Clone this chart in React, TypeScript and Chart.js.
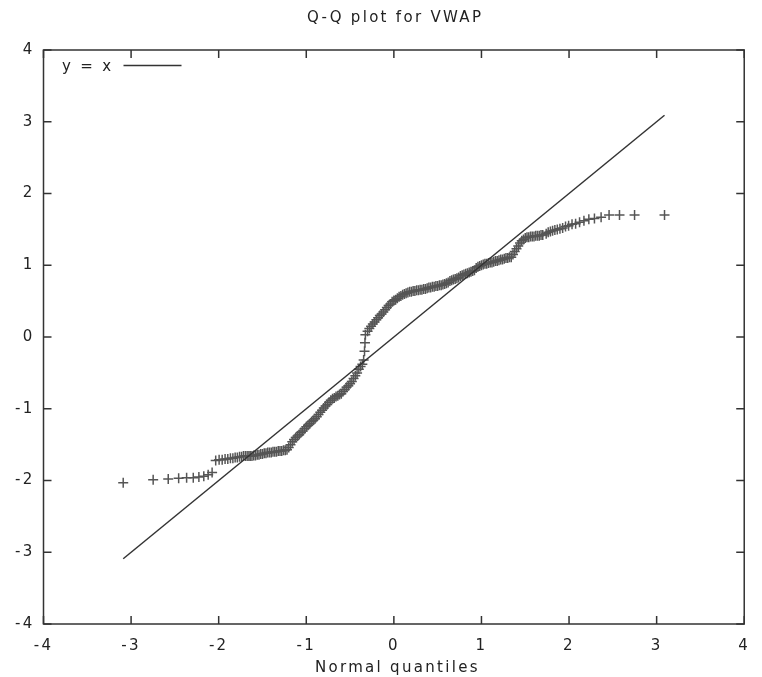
import React, { useEffect, useRef } from "react";
import { Chart, registerables } from "chart.js";

Chart.register(...registerables);

const TITLE = "Q-Q plot for VWAP";
const X_LABEL = "Normal quantiles";
const LINE_LABEL = "y = x";
const AXIS_MIN = -4;
const AXIS_MAX = 4;

// reference line y = x
const lineX = [-3.09, 3.09];
const lineY = [-3.09, 3.09];

// theoretical normal quantiles (x)
const quantileX = [
  -3.09, -2.748, -2.576, -2.457, -2.366, -2.29, -2.226, -2.17, -2.12, -2.075,
  -2.034, -1.995, -1.96, -1.927, -1.896, -1.866, -1.838, -1.812, -1.787, -1.762,
  -1.739, -1.717, -1.695, -1.675, -1.655,
  -1.64, -1.62, -1.6, -1.58, -1.56, -1.54, -1.52, -1.5, -1.48, -1.46,
  -1.44, -1.42, -1.4, -1.38, -1.36, -1.34, -1.32, -1.3, -1.28, -1.26,
  -1.24, -1.22, -1.2, -1.18, -1.16, -1.14, -1.12, -1.1, -1.08, -1.06,
  -1.04, -1.02, -1.0, -0.98, -0.96, -0.94, -0.92, -0.9, -0.88, -0.86,
  -0.84, -0.82, -0.8, -0.78, -0.76, -0.74, -0.72, -0.7, -0.68, -0.66,
  -0.64, -0.62, -0.6, -0.58, -0.56, -0.54, -0.52, -0.5, -0.48, -0.46,
  -0.44, -0.42, -0.4, -0.38, -0.36, -0.345, -0.335, -0.33, -0.325, -0.3,
  -0.28, -0.26, -0.24, -0.22, -0.2, -0.18, -0.16, -0.14, -0.12, -0.1,
  -0.08, -0.06, -0.04, -0.02, 0.0, 0.02, 0.04, 0.06, 0.08, 0.1,
  0.12, 0.14, 0.16, 0.18, 0.2, 0.22, 0.24, 0.26, 0.28, 0.3,
  0.32, 0.34, 0.36, 0.38, 0.4, 0.42, 0.44, 0.46, 0.48, 0.5,
  0.52, 0.54, 0.56, 0.58, 0.6, 0.62, 0.64, 0.66, 0.68, 0.7,
  0.72, 0.74, 0.76, 0.78, 0.8, 0.82, 0.84, 0.86, 0.88, 0.9,
  0.92, 0.94, 0.96, 0.98, 1.0, 1.02, 1.04, 1.06, 1.08, 1.1,
  1.12, 1.14, 1.16, 1.18, 1.2, 1.22, 1.24, 1.26, 1.28, 1.3,
  1.32, 1.34, 1.36, 1.38, 1.4, 1.42, 1.44, 1.46, 1.48, 1.5,
  1.52, 1.54, 1.56, 1.58, 1.6, 1.62, 1.64, 1.66, 1.68, 1.7,
  1.739, 1.762, 1.787, 1.812, 1.838, 1.866, 1.896, 1.927, 1.96, 1.995,
  2.034, 2.075, 2.12, 2.17, 2.226, 2.29, 2.366, 2.457, 2.576, 2.748, 3.09,
];

// sorted sample values (y)
const sampleY = [
  -2.03, -1.99, -1.98, -1.97, -1.96, -1.96, -1.95, -1.94, -1.92, -1.89,
  -1.72, -1.71, -1.71, -1.7, -1.7, -1.69, -1.69, -1.68, -1.68, -1.67,
  -1.67, -1.66, -1.66, -1.66, -1.66,
  -1.66, -1.66, -1.65, -1.65, -1.64, -1.64, -1.63, -1.63, -1.62, -1.62,
  -1.61, -1.61, -1.61, -1.6, -1.6, -1.6, -1.59, -1.59, -1.59, -1.58,
  -1.58, -1.57, -1.54, -1.5, -1.46, -1.43, -1.4, -1.38, -1.36, -1.33,
  -1.31, -1.28, -1.25, -1.23, -1.21, -1.18, -1.16, -1.14, -1.11, -1.08,
  -1.05, -1.02, -0.99, -0.96, -0.94, -0.91, -0.88, -0.86, -0.85, -0.83,
  -0.82, -0.8, -0.79, -0.76, -0.73, -0.7, -0.68, -0.65, -0.62, -0.58,
  -0.54, -0.5, -0.45, -0.41, -0.38, -0.32, -0.2, -0.08, 0.03, 0.08,
  0.12, 0.15, 0.18, 0.21, 0.24, 0.27, 0.3, 0.32, 0.35, 0.38,
  0.41, 0.44, 0.46, 0.49, 0.51, 0.52, 0.54, 0.56, 0.57, 0.59,
  0.6, 0.61, 0.62, 0.63, 0.63, 0.64, 0.64, 0.65, 0.65, 0.66,
  0.66, 0.67, 0.67, 0.68, 0.69, 0.69, 0.7, 0.7, 0.71, 0.71,
  0.72, 0.72, 0.73, 0.74, 0.75, 0.76, 0.78, 0.79, 0.8, 0.81,
  0.82, 0.83, 0.85, 0.86, 0.87, 0.88, 0.89, 0.9, 0.91, 0.92,
  0.93, 0.96, 0.98, 0.99, 1.0, 1.01, 1.02, 1.02, 1.03, 1.04,
  1.04, 1.05, 1.06, 1.06, 1.07, 1.08, 1.08, 1.09, 1.1, 1.1,
  1.11, 1.11, 1.15, 1.19, 1.23, 1.27, 1.31, 1.34, 1.36, 1.38,
  1.39, 1.39, 1.4, 1.4, 1.4, 1.41, 1.41, 1.41, 1.42, 1.42,
  1.44, 1.46, 1.47, 1.48, 1.49, 1.5, 1.51, 1.52, 1.54, 1.55,
  1.57, 1.58, 1.6, 1.62, 1.64, 1.65, 1.67, 1.7, 1.7, 1.7, 1.7,
];

const FONT = "'DejaVu Sans', Verdana, sans-serif";
const TEXT_COLOR = "#222";
const FRAME_COLOR = "#333";
const SPACING = "2.3px";

const framePlugin = {
  id: "gnuFrame",
  beforeDraw(chart: any) {
    (chart.ctx as any).letterSpacing = SPACING;
  },
  afterDatasetsDraw(chart: any) {
    const { ctx, chartArea: a, scales } = chart;
    ctx.save();
    ctx.strokeStyle = FRAME_COLOR;
    ctx.lineWidth = 1.5;
    ctx.strokeRect(a.left, a.top, a.right - a.left, a.bottom - a.top);
    const L = 8;
    ctx.beginPath();
    scales.x.ticks.forEach((t: any) => {
      const px = scales.x.getPixelForValue(t.value);
      ctx.moveTo(px, a.bottom);
      ctx.lineTo(px, a.bottom - L);
      ctx.moveTo(px, a.top);
      ctx.lineTo(px, a.top + L);
    });
    scales.y.ticks.forEach((t: any) => {
      const py = scales.y.getPixelForValue(t.value);
      ctx.moveTo(a.left, py);
      ctx.lineTo(a.left + L, py);
      ctx.moveTo(a.right, py);
      ctx.lineTo(a.right - L, py);
    });
    ctx.stroke();

    ctx.fillStyle = TEXT_COLOR;
    ctx.font = `15px ${FONT}`;
    (ctx as any).letterSpacing = SPACING;
    const cx = (a.left + a.right) / 2;

    // title, centred on the plot area
    ctx.textAlign = "center";
    ctx.textBaseline = "middle";
    ctx.fillText(TITLE, cx + 1.2, a.top - 32);
    // x-axis title
    ctx.fillText(X_LABEL, cx + 3.5, chart.height - 9);

    // key (legend) in the top-left corner
    ctx.textAlign = "left";
    ctx.fillText(chart.data.datasets[0].label, a.left + 18.5, a.top + 17);
    ctx.beginPath();
    ctx.lineWidth = 1.5;
    ctx.moveTo(a.left + 80, a.top + 15.5);
    ctx.lineTo(a.left + 138, a.top + 15.5);
    ctx.stroke();
    ctx.restore();
  },
};

export default function App() {
  const canvasRef = useRef<HTMLCanvasElement | null>(null);

  useEffect(() => {
    if (!canvasRef.current) return;
    const linePts = lineX.map((x, i) => ({ x, y: lineY[i] }));
    const qqPts = quantileX.map((x, i) => ({ x, y: sampleY[i] }));
    const chart = new Chart(canvasRef.current, {
      type: "scatter",
      data: {
        datasets: [
          {
            type: "line",
            label: LINE_LABEL,
            data: linePts,
            borderColor: FRAME_COLOR,
            borderWidth: 1.5,
            pointRadius: 0,
            fill: false,
          } as any,
          {
            label: "VWAP",
            data: qqPts,
            pointStyle: "cross",
            pointRadius: 5,
            borderColor: "#555",
            backgroundColor: "#555",
            borderWidth: 1.5,
          },
        ],
      },
      options: {
        animation: false,
        responsive: true,
        maintainAspectRatio: false,
        layout: { padding: { left: 0, right: 9, top: 50, bottom: 0 } },
        plugins: {
          legend: { display: false },
          tooltip: { enabled: false },
          title: { display: false },
        },
        scales: {
          x: {
            type: "linear",
            min: AXIS_MIN,
            max: AXIS_MAX,
            grid: { display: false, drawTicks: false },
            border: { display: false },
            ticks: {
              stepSize: 1,
              padding: 13,
              color: TEXT_COLOR,
              font: { family: FONT, size: 15 },
            },
            afterFit: (s: any) => {
              s.height = 53;
            },
          },
          y: {
            type: "linear",
            min: AXIS_MIN,
            max: AXIS_MAX,
            grid: { display: false, drawTicks: false },
            border: { display: false },
            ticks: {
              stepSize: 1,
              padding: 9,
              color: TEXT_COLOR,
              font: { family: FONT, size: 15 },
            },
            afterFit: (s: any) => {
              s.width = 43.5;
            },
          },
        },
      },
      plugins: [framePlugin],
    });
    return () => chart.destroy();
  }, []);

  return (
    <div
      style={{
        position: "absolute",
        left: 0,
        top: 0,
        width: 762,
        height: 677,
        background: "#fff",
      }}
    >
      <canvas ref={canvasRef} />
    </div>
  );
}
